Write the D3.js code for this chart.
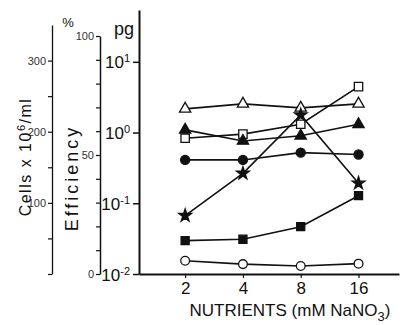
<!DOCTYPE html>
<html>
<head>
<meta charset="utf-8">
<script src="https://cdn.jsdelivr.net/npm/d3@7"></script>
<style>
  body { margin: 0; background: #fff; }
  svg { display: block; font-family: "Liberation Sans", Arial, sans-serif; }
  .domain { stroke: #111; }
</style>
</head>
<body>
<svg id="chart" width="400" height="325"></svg>
<script>
// x categories (mM NaNO3)
const nutrients = [2, 4, 8, 16];

// pg values, one array per marker
const openTriangle = [2.16, 2.54, 2.23, 2.54];
const openSquare = [0.83, 0.95, 1.31, 4.46];
const filledTriangle = [1.09, 0.76, 0.9, 1.31];
const filledCircle = [0.41, 0.41, 0.52, 0.49];
const star = [0.067, 0.265, 1.77, 0.192];
const filledSquare = [0.0296, 0.031, 0.0467, 0.128];
const openCircle = [0.0154, 0.0138, 0.013, 0.014];

// axis ticks
const pgTicks = [0.01, 0.1, 1, 10];
const effTicks = [0, 10, 20, 30, 40, 50, 60, 70, 80, 90, 100];
const effLabels = [0, 50, 100];
const cellTicks = [0, 50, 100, 150, 200, 250, 300];
const cellLabels = [100, 200, 300];

const svg = d3.select("#chart");

const x = d3.scaleLog().base(2).domain([1.15, 26]).range([139, 399]);
const y = d3.scaleLog().domain([0.01, 54]).range([274, 10]);
const yEff = d3.scaleLinear().domain([0, 100]).range([274, 36]);
const yCell = d3.scaleLinear().domain([0, 350]).range([274, 25]);

// --- main log axis (pg)
const gy = svg.append("g").attr("transform", "translate(139,0)")
  .call(d3.axisLeft(y).tickValues(pgTicks).tickSize(6).tickSizeOuter(0).tickFormat(""));
gy.select(".domain").attr("stroke-width", 2);
gy.selectAll(".tick line").attr("stroke", "#111").attr("stroke-width", 1.5);
gy.selectAll(".tick").append("text")
  .attr("x", -9).attr("dy", "0.36em").attr("text-anchor", "end")
  .attr("fill", "#111").attr("font-size", 17)
  .each(function (d) {
    const t = d3.select(this);
    t.append("tspan").text("10");
    t.append("tspan").attr("dy", "-0.55em").attr("font-size", 11)
      .text(Math.round(Math.log10(d)));
  });

svg.append("text").attr("x", 114).attr("y", 35).attr("font-size", 18)
  .attr("fill", "#111").text("pg");

// --- x axis
const gx = svg.append("g").attr("transform", "translate(0,274)")
  .call(d3.axisBottom(x).tickValues(nutrients).tickSize(4).tickSizeOuter(0).tickFormat(d3.format("d")));
gx.select(".domain").attr("stroke-width", 2);
gx.selectAll(".tick line").attr("stroke", "#111").attr("stroke-width", 1.2);
gx.selectAll(".tick text").attr("font-size", 17).attr("fill", "#111").attr("dy", "0.75em");

const xl = svg.append("text").attr("x", 290).attr("y", 316).attr("text-anchor", "middle")
  .attr("font-size", 17).attr("fill", "#111");
xl.append("tspan").text("NUTRIENTS (mM NaNO");
xl.append("tspan").attr("dy", 5).attr("font-size", 13).text("3");
xl.append("tspan").attr("dy", -5).text(")");

// --- efficiency axis
const ge = svg.append("g").attr("transform", "translate(100,0)")
  .call(d3.axisLeft(yEff).tickValues(effTicks).tickSize(4).tickSizeOuter(0)
    .tickFormat(d => effLabels.includes(d) ? d : ""));
ge.select(".domain").attr("stroke-width", 1.5);
ge.selectAll(".tick line").attr("stroke", "#111").attr("stroke-width", 1.2);
ge.selectAll(".tick text").attr("font-size", 11).attr("fill", "#333").attr("x", -6);

svg.append("text").attr("x", 68).attr("y", 27).attr("text-anchor", "middle")
  .attr("font-size", 13).attr("fill", "#111").text("%");

svg.append("text").attr("transform", "translate(78,178) rotate(-90)")
  .attr("text-anchor", "middle").attr("font-size", 18).attr("letter-spacing", 3)
  .attr("fill", "#111").text("Efficiency");

// --- cells axis
const gc = svg.append("g").attr("transform", "translate(52,0)")
  .call(d3.axisLeft(yCell).tickValues(cellTicks).tickSize(4).tickSizeOuter(0)
    .tickFormat(d => cellLabels.includes(d) ? d : ""));
gc.select(".domain").attr("stroke-width", 1.3).attr("stroke", "#333");
gc.selectAll(".tick line").attr("stroke", "#111").attr("stroke-width", 1.2);
gc.selectAll(".tick text").attr("font-size", 11).attr("fill", "#333").attr("x", -6);

const cl = svg.append("text").attr("transform", "translate(31,157) rotate(-90)")
  .attr("text-anchor", "middle").attr("font-size", 16).attr("letter-spacing", 1.5)
  .attr("fill", "#111");
cl.append("tspan").text("Cells x 10");
cl.append("tspan").attr("dy", -6).attr("font-size", 11).text("6");
cl.append("tspan").attr("dy", 6).text("/ml");

// --- series
const series = [
  { values: openTriangle, type: d3.symbolTriangle, size: 55, fill: "#fff" },
  { values: openSquare, type: d3.symbolSquare, size: 70, fill: "#fff" },
  { values: filledTriangle, type: d3.symbolTriangle, size: 55, fill: "#111" },
  { values: filledCircle, type: d3.symbolCircle, size: 65, fill: "#111" },
  { values: star, type: d3.symbolStar, size: 50, fill: "#111" },
  { values: filledSquare, type: d3.symbolSquare, size: 65, fill: "#111" },
  { values: openCircle, type: d3.symbolCircle, size: 60, fill: "#fff" },
];

const line = d3.line().x((d, i) => x(nutrients[i])).y(d => y(d));

svg.append("g").selectAll("path").data(series).join("path")
  .attr("d", s => line(s.values))
  .attr("fill", "none").attr("stroke", "#111").attr("stroke-width", 1.6);

series.forEach(s => {
  svg.append("g").selectAll("path").data(s.values).join("path")
    .attr("transform", (d, i) => `translate(${x(nutrients[i])},${y(d)})`)
    .attr("d", d3.symbol().type(s.type).size(s.size))
    .attr("fill", s.fill).attr("stroke", "#111").attr("stroke-width", 1.3);
});
</script>
</body>
</html>
